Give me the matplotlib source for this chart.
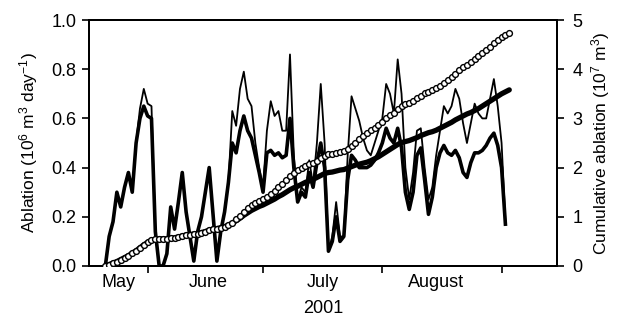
import matplotlib
matplotlib.use("Agg")
import matplotlib.pyplot as plt
import numpy as np

plt.rcParams['font.family'] = ['Liberation Sans', 'DejaVu Sans']
plt.rcParams['mathtext.default'] = 'regular'

# day of year, 2001
days = list(range(141, 246))
total_daily = [0.00, 0.12, 0.18, 0.30, 0.24, 0.32, 0.38, 0.30, 0.50, 0.64,
               0.72, 0.66, 0.65, 0.14, 0.00, 0.00, 0.05, 0.24, 0.15, 0.26,
               0.38, 0.22, 0.12, 0.02, 0.14, 0.20, 0.30, 0.40, 0.21, 0.02,
               0.14, 0.22, 0.34, 0.63, 0.57, 0.72, 0.79, 0.68, 0.65, 0.50,
               0.40, 0.32, 0.55, 0.67, 0.61, 0.63, 0.55, 0.55, 0.86, 0.45,
               0.27, 0.32, 0.30, 0.43, 0.33, 0.50, 0.74, 0.50, 0.06, 0.12,
               0.26, 0.12, 0.12, 0.45, 0.69, 0.64, 0.59, 0.52, 0.47, 0.45,
               0.50, 0.55, 0.60, 0.74, 0.70, 0.62, 0.84, 0.70, 0.40, 0.27,
               0.38, 0.55, 0.56, 0.40, 0.27, 0.32, 0.45, 0.55, 0.65, 0.62,
               0.65, 0.72, 0.68, 0.58, 0.50, 0.58, 0.66, 0.62, 0.60, 0.60,
               0.68, 0.76, 0.65, 0.50, 0.18]
ice_daily = [0.00, 0.12, 0.18, 0.30, 0.24, 0.32, 0.38, 0.30, 0.50, 0.60,
             0.65, 0.61, 0.60, 0.14, 0.00, 0.00, 0.05, 0.24, 0.15, 0.26,
             0.38, 0.22, 0.12, 0.02, 0.14, 0.20, 0.30, 0.40, 0.21, 0.02,
             0.14, 0.22, 0.34, 0.50, 0.46, 0.55, 0.61, 0.55, 0.52, 0.45,
             0.38, 0.30, 0.46, 0.47, 0.45, 0.46, 0.44, 0.45, 0.60, 0.40,
             0.26, 0.30, 0.28, 0.38, 0.32, 0.42, 0.50, 0.40, 0.06, 0.10,
             0.20, 0.10, 0.12, 0.35, 0.45, 0.43, 0.40, 0.40, 0.40, 0.41,
             0.43, 0.46, 0.50, 0.56, 0.52, 0.50, 0.56, 0.48, 0.30, 0.23,
             0.30, 0.45, 0.48, 0.35, 0.21, 0.28, 0.40, 0.46, 0.49, 0.46,
             0.45, 0.47, 0.44, 0.38, 0.36, 0.42, 0.46, 0.46, 0.47, 0.49,
             0.52, 0.54, 0.49, 0.40, 0.17]

cum_days = list(range(141, 247))
total_cum = [0.00, 0.03, 0.06, 0.09, 0.13, 0.17, 0.21, 0.26, 0.31, 0.37,
             0.43, 0.48, 0.52, 0.54, 0.55, 0.55, 0.55, 0.56, 0.57, 0.59,
             0.61, 0.63, 0.64, 0.65, 0.66, 0.68, 0.70, 0.73, 0.75, 0.76,
             0.78, 0.80, 0.83, 0.88, 0.95, 1.02, 1.10, 1.17, 1.23, 1.29,
             1.33, 1.37, 1.41, 1.47, 1.53, 1.60, 1.67, 1.74, 1.82, 1.90,
             1.95, 1.99, 2.03, 2.07, 2.10, 2.14, 2.19, 2.24, 2.27, 2.28,
             2.30, 2.32, 2.34, 2.38, 2.44, 2.51, 2.58, 2.64, 2.70, 2.76,
             2.81, 2.87, 2.93, 3.00, 3.06, 3.12, 3.19, 3.25, 3.29, 3.32,
             3.36, 3.41, 3.46, 3.51, 3.54, 3.57, 3.61, 3.66, 3.72, 3.78,
             3.84, 3.91, 3.98, 4.04, 4.09, 4.15, 4.21, 4.27, 4.33, 4.39,
             4.46, 4.53, 4.60, 4.66, 4.70, 4.74]
ice_cum = [0.00, 0.03, 0.06, 0.09, 0.13, 0.17, 0.21, 0.26, 0.31, 0.37,
           0.43, 0.48, 0.52, 0.54, 0.55, 0.55, 0.55, 0.56, 0.57, 0.59,
           0.61, 0.63, 0.64, 0.65, 0.66, 0.68, 0.70, 0.73, 0.75, 0.76,
           0.78, 0.80, 0.83, 0.87, 0.92, 0.97, 1.03, 1.08, 1.13, 1.17,
           1.21, 1.24, 1.28, 1.32, 1.36, 1.41, 1.45, 1.50, 1.55, 1.59,
           1.62, 1.66, 1.70, 1.73, 1.76, 1.80, 1.84, 1.88, 1.90, 1.91,
           1.93, 1.95, 1.96, 1.99, 2.02, 2.05, 2.07, 2.09, 2.11, 2.14,
           2.18, 2.22, 2.27, 2.32, 2.37, 2.42, 2.47, 2.51, 2.53, 2.55,
           2.58, 2.61, 2.65, 2.68, 2.71, 2.73, 2.76, 2.80, 2.84, 2.88,
           2.92, 2.97, 3.01, 3.05, 3.09, 3.12, 3.16, 3.20, 3.25, 3.30,
           3.35, 3.40, 3.45, 3.50, 3.54, 3.58]

month_edges = [152, 182, 213, 244]
month_names = ["May", "June", "July", "August"]
month_pos = [144.3, 167.8, 197.6, 226.9]

fig = plt.figure(figsize=(6.17, 3.23), dpi=100)
ax = fig.add_axes([0.1442, 0.1765, 0.7585, 0.7615])
ax2 = ax.twinx()

ax.plot(days, total_daily, color='black', lw=1.3, zorder=2)
ax.plot(days, ice_daily, color='black', lw=2.6, zorder=2)
ax2.plot(cum_days, ice_cum, color='black', lw=3.8, solid_capstyle='round', zorder=3)
ax2.plot(cum_days, total_cum, color='black', lw=0.8, marker='o', ms=4.2,
         mfc='white', mec='black', mew=1.0, zorder=4)

ax.set_xlim(136.75, 258.4)
ax.set_ylim(0, 1.0)
ax2.set_ylim(0, 5)

ax.set_yticks(np.arange(0, 1.01, 0.2))
ax.set_yticklabels(["%.1f" % v for v in np.arange(0, 1.01, 0.2)])
ax2.set_yticks(range(0, 6))

ax.set_xticks(month_edges)
ax.set_xticklabels([])
ax.set_xticks(month_pos, minor=True)
ax.set_xticklabels(month_names, minor=True)
ax.tick_params(axis='x', which='major', direction='out', length=5, width=1.2)
ax.tick_params(axis='x', which='minor', length=0, pad=6, labelsize=13)
ax.tick_params(axis='y', direction='out', length=5, width=1.2, labelsize=13, pad=4)
ax2.tick_params(axis='y', direction='out', length=5, width=1.2, labelsize=13, pad=6)

for a in (ax, ax2):
    for s in a.spines.values():
        s.set_linewidth(1.4)

ax.set_xlabel("2001", fontsize=13, labelpad=6)
ax.set_ylabel("Ablation (10$^6$ m$^3$ day$^{-1}$)", fontsize=12.5, labelpad=8)
ax2.set_ylabel("Cumulative ablation (10$^7$ m$^3$)", fontsize=12.5, labelpad=5)

fig.savefig("out.png", dpi=100)
